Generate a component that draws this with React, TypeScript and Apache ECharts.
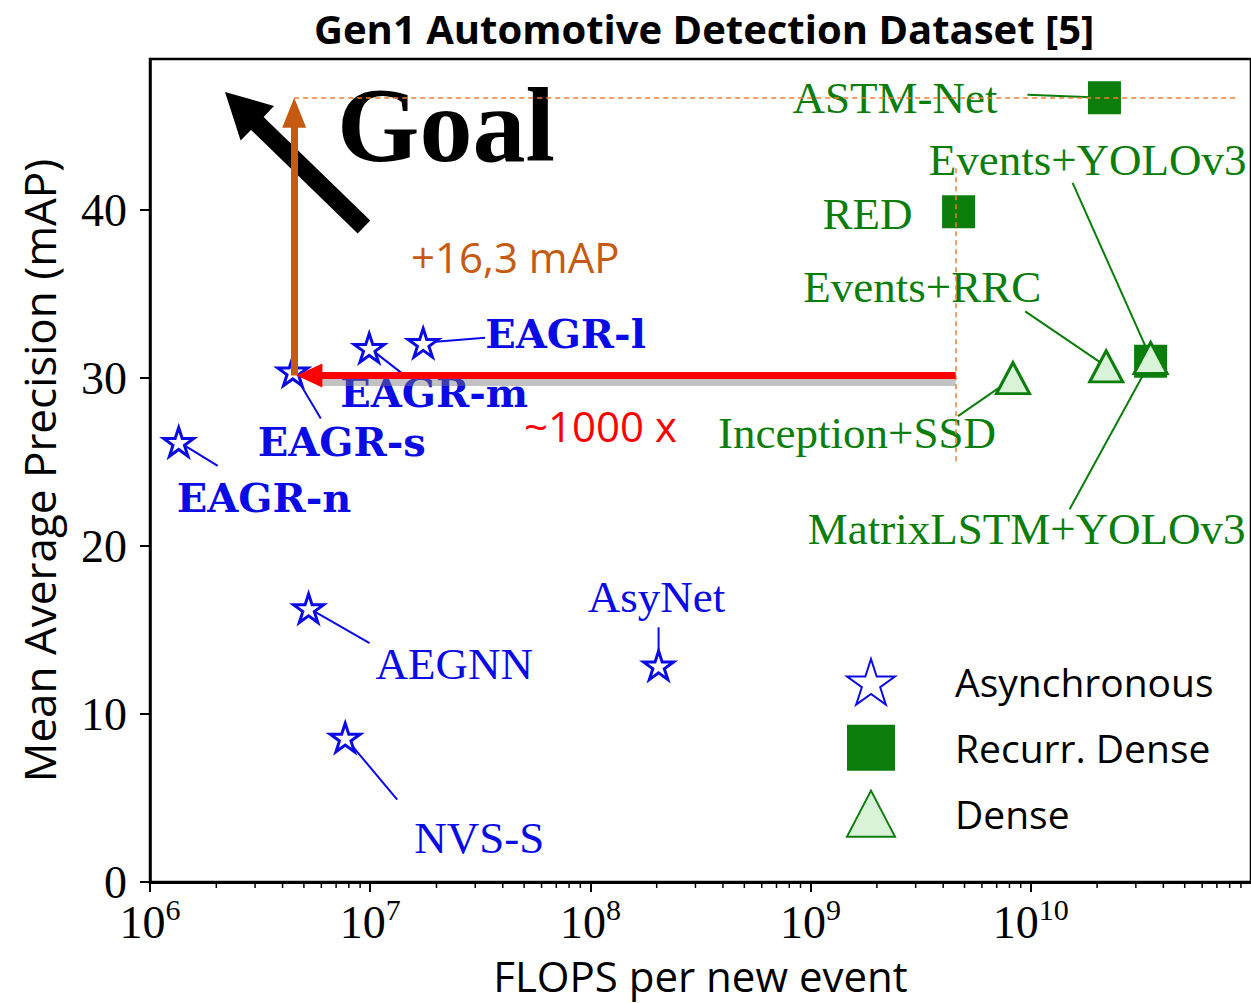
import React, { useEffect, useRef } from 'react';
import * as echarts from 'echarts';

// ---- data ----
const asyncNames = ['EAGR-n', 'EAGR-s', 'EAGR-m', 'EAGR-l', 'AEGNN', 'NVS-S', 'AsyNet'];
const asyncFlops = [1.35e6, 4.45e6, 9.9e6, 1.74e7, 5.25e6, 7.7e6, 2.04e8];
const asyncMap = [26.2, 30.4, 31.8, 32.1, 16.3, 8.6, 12.9];

const recurNames = ['ASTM-Net', 'RED', 'MatrixLSTM+YOLOv3'];
const recurFlops = [2.16e10, 4.7e9, 3.5e10];
const recurMap = [46.7, 39.9, 31.0];

const denseNames = ['Events+YOLOv3', 'Events+RRC', 'Inception+SSD'];
const denseFlops = [3.5e10, 2.2e10, 8.3e9];
const denseMap = [31.2, 30.7, 30.0];

const yTicks = [0, 10, 20, 30, 40];
const legendNames = ['Asynchronous', 'Recurr. Dense', 'Dense'];

// ---- layout / styles ----
const BLUE = '#0a0ae6';
const GREEN = '#0b7d0b';
const GREEN_FILL = '#d8f3d8';
const ORANGE = '#c55a11';
const ORANGE_DASH = '#ed7d31';
const serif = '"Liberation Serif", "DejaVu Serif", serif';
const boldSerif = '"DejaVu Serif", "Liberation Serif", serif';
const sans = '"Open Sans", "Noto Sans", sans-serif';
const STAR =
  'path://M100 0L122.45 69.1L195.11 69.1L136.33 111.8L158.78 180.9L100 138.2L41.22 180.9L63.67 111.8L4.89 69.1L77.55 69.1Z';

type Lay = { text: [number, number]; align: string; line: [number, number] };
const labelLayout: Record<string, Lay> = {
  'EAGR-n': { text: [-2, 56], align: 'left', line: [39, 24] },
  'EAGR-s': { text: [-35, 70], align: 'left', line: [28, 47] },
  'EAGR-m': { text: [-29, 45], align: 'left', line: [36, 28] },
  'EAGR-l': { text: [62, -9], align: 'left', line: [62, -5] },
  AEGNN: { text: [67, 56], align: 'left', line: [61, 35] },
  'NVS-S': { text: [69, 100], align: 'left', line: [52, 62] },
  AsyNet: { text: [-2, -68], align: 'center', line: [0, -38] },
  'ASTM-Net': { text: [-107, 0], align: 'right', line: [-77, -3] },
  RED: { text: [-46, 2], align: 'right', line: [-14, 0] },
  'MatrixLSTM+YOLOv3': { text: [-124, 168], align: 'center', line: [-81, 148] },
  'Events+YOLOv3': { text: [-63, -198], align: 'center', line: [-78, -175] },
  'Events+RRC': { text: [-65, -79], align: 'right', line: [-81, -55] },
  'Inception+SSD': { text: [-17, 55], align: 'right', line: [-55, 38] },
};

const labelItems = [
  ...asyncNames.map((n, i) => ({ name: n, flops: asyncFlops[i], map: asyncMap[i], color: BLUE, bold: n.startsWith('EAGR') })),
  ...recurNames.map((n, i) => ({ name: n, flops: recurFlops[i], map: recurMap[i], color: GREEN, bold: false })),
  ...denseNames.map((n, i) => ({ name: n, flops: denseFlops[i], map: denseMap[i], color: GREEN, bold: false })),
];

const minorTicks: number[] = [];
for (let k = 6; k <= 10; k++) for (let m = 2; m <= 9; m++) minorTicks.push(m * Math.pow(10, k));

const PX_PER_UNIT = 823 / 49;
const arrowLevel = 30.15;
const eagrS = asyncFlops[1];
const redX = recurFlops[1];
const astmY = recurMap[0];

export default function App() {
  const ref = useRef<HTMLDivElement>(null);
  useEffect(() => {
    const chart = echarts.init(ref.current!, null, { renderer: 'svg' });
    const option: any = {
      animation: false,
      backgroundColor: '#fff',
      title: {
        text: 'Gen1 Automotive Detection Dataset [5]',
        left: 309,
        top: 3,
        textStyle: { fontFamily: sans, fontWeight: 'bold', fontSize: 40, color: '#000' },
      },
      grid: { left: 150, top: 59, width: 1105, height: 823, show: true, borderColor: '#000', borderWidth: 2.5 },
      legend: {
        data: legendNames,
        orient: 'vertical',
        left: 841,
        top: 653,
        itemWidth: 48,
        itemHeight: 46,
        itemGap: 19,
        selectedMode: false,
        textStyle: { fontFamily: sans, fontSize: 39, color: '#000', padding: [0, 0, 0, 55] },
      },
      xAxis: {
        type: 'log',
        logBase: 10,
        min: 1e6,
        max: 1e11,
        splitNumber: 5,
        name: 'FLOPS per new event',
        nameLocation: 'middle',
        nameGap: 75,
        nameTextStyle: { fontFamily: sans, fontSize: 42, lineHeight: 36, color: '#000' },
        axisLine: { show: true, lineStyle: { color: '#000', width: 3 } },
        axisTick: { show: true, length: 10, lineStyle: { color: '#000', width: 2 } },
        splitLine: { show: false },
        axisLabel: {
          margin: 12,
          showMaxLabel: false,
          formatter: (v: number) => '{b|10}{s|' + Math.round(Math.log10(v)) + '}',
          rich: {
            b: { fontFamily: serif, fontSize: 46, lineHeight: 46, padding: [10, 0, 0, 0], color: '#000' },
            s: { fontFamily: serif, fontSize: 30, lineHeight: 30, verticalAlign: 'top', color: '#000' },
          },
        },
      },
      yAxis: {
        type: 'value',
        min: 0,
        max: 49,
        interval: 10,
        name: 'Mean Average Precision (mAP)',
        nameLocation: 'middle',
        nameGap: 89,
        nameTextStyle: { fontFamily: sans, fontSize: 44, color: '#000' },
        axisLine: { show: true, lineStyle: { color: '#000', width: 2.5 } },
        axisTick: { show: true, length: 10, customValues: yTicks, lineStyle: { color: '#000', width: 2 } },
        axisLabel: { customValues: yTicks, margin: 23, fontFamily: serif, fontSize: 46, color: '#000' },
        splitLine: { show: false },
      },
      graphic: [
        {
          type: 'polygon',
          shape: { points: [[225, 92], [274, 106], [263.6, 116.9], [370.3, 220.5], [357.7, 233.5], [251, 129.9], [240.6, 140.6]] },
          style: { fill: '#000' },
        },
        { type: 'text', x: 337, y: 125, style: { text: 'Goal', fontFamily: serif, fontWeight: 'bold', fontSize: 106, fill: '#000', align: 'left', verticalAlign: 'middle' } },
        { type: 'text', x: 411, y: 256, style: { text: '+16,3 mAP', fontFamily: sans, fontSize: 42, fill: ORANGE, align: 'left', verticalAlign: 'middle' } },
        { type: 'text', x: 524, y: 425, style: { text: '~1000 x', fontFamily: sans, fontSize: 42, fill: '#ff0000', align: 'left', verticalAlign: 'middle' } },
      ],
      series: [
        {
          type: 'custom',
          name: 'labels',
          z: 1,
          clip: false,
          silent: true,
          data: labelItems.map((it, i) => [it.flops, it.map, i]),
          renderItem: (params: any, api: any) => {
            const it = labelItems[api.value(2)];
            const p = api.coord([api.value(0), api.value(1)]);
            const L = labelLayout[it.name];
            return {
              type: 'group',
              children: [
                { type: 'line', shape: { x1: p[0], y1: p[1], x2: p[0] + L.line[0], y2: p[1] + L.line[1] }, style: { stroke: it.color, lineWidth: 2 } },
                {
                  type: 'text',
                  x: p[0] + L.text[0],
                  y: p[1] + L.text[1],
                  style: {
                    text: it.name,
                    fill: it.color,
                    fontFamily: it.bold ? boldSerif : serif,
                    fontWeight: it.bold ? 'bold' : 'normal',
                    fontSize: it.bold ? 40 : 45,
                    align: L.align,
                    verticalAlign: 'middle',
                  },
                },
              ],
            };
          },
        },
        {
          type: 'custom',
          name: 'minor',
          clip: false,
          silent: true,
          data: minorTicks.map((v) => [v, 0]),
          renderItem: (params: any, api: any) => {
            const p = api.coord([api.value(0), 0]);
            return { type: 'line', shape: { x1: p[0], y1: p[1], x2: p[0], y2: p[1] + 6 }, style: { stroke: '#000', lineWidth: 1.5 } };
          },
        },
        {
          type: 'line',
          name: 'dash',
          data: [],
          markLine: {
            silent: true,
            symbol: ['none', 'none'],
            label: { show: false },
            lineStyle: { color: ORANGE_DASH, width: 1.5, type: [5, 4] },
            data: [
              [{ coord: [eagrS * 1.015, astmY] }, { coord: [8.6e10, astmY] }],
              [{ coord: [redX * 0.97, 42.5] }, { coord: [redX * 0.97, 25] }],
            ],
          },
        },
        {
          type: 'scatter',
          name: 'Asynchronous',
          z: 3,
          symbol: STAR,
          symbolSize: 30,
          symbolKeepAspect: true,
          itemStyle: { color: '#fff', borderColor: BLUE, borderWidth: 3, opacity: 1 },
          data: asyncFlops.map((f, i) => [f, asyncMap[i]]),
        },
        {
          type: 'scatter',
          name: 'Recurr. Dense',
          z: 3,
          symbol: 'rect',
          symbolSize: 33,
          itemStyle: { color: GREEN, opacity: 1 },
          data: recurFlops.map((f, i) => [f, recurMap[i]]),
        },
        {
          type: 'scatter',
          name: 'Dense',
          z: 3,
          symbol: 'triangle',
          symbolSize: [33, 31],
          itemStyle: { color: GREEN_FILL, borderColor: GREEN, borderWidth: 3, opacity: 1 },
          data: denseFlops.map((f, i) => [f, denseMap[i]]),
        },
        {
          type: 'line',
          name: 'orangeArrow',
          z: 4,
          data: [],
          markLine: {
            silent: true,
            symbol: ['none', 'triangle'],
            symbolSize: [24, 30],
            label: { show: false },
            lineStyle: { color: ORANGE, width: 7, type: 'solid', opacity: 1 },
            data: [[{ coord: [eagrS * 1.015, arrowLevel] }, { coord: [eagrS * 1.015, astmY - 15 / PX_PER_UNIT] }]],
          },
        },
        {
          type: 'line',
          name: 'redShadow',
          z: 4,
          data: [],
          markLine: {
            silent: true,
            symbol: ['none', 'none'],
            label: { show: false },
            lineStyle: { color: 'rgba(120,120,120,0.45)', width: 7, type: 'solid', opacity: 1 },
            data: [[{ coord: [redX * 0.97, arrowLevel - 6.5 / PX_PER_UNIT] }, { coord: [eagrS * 1.3, arrowLevel - 6.5 / PX_PER_UNIT] }]],
          },
        },
        {
          type: 'line',
          name: 'redArrow',
          z: 5,
          data: [],
          markLine: {
            silent: true,
            symbol: ['none', 'triangle'],
            symbolSize: [24, 26],
            label: { show: false },
            lineStyle: { color: '#ff0000', width: 7, type: 'solid', opacity: 1 },
            data: [[{ coord: [redX * 0.97, arrowLevel] }, { coord: [eagrS * 1.19, arrowLevel] }]],
          },
        },
      ],
    };
    chart.setOption(option);
    return () => chart.dispose();
  }, []);
  return <div ref={ref} style={{ position: 'absolute', left: 0, top: 0, width: 1251, height: 1003 }} />;
}
